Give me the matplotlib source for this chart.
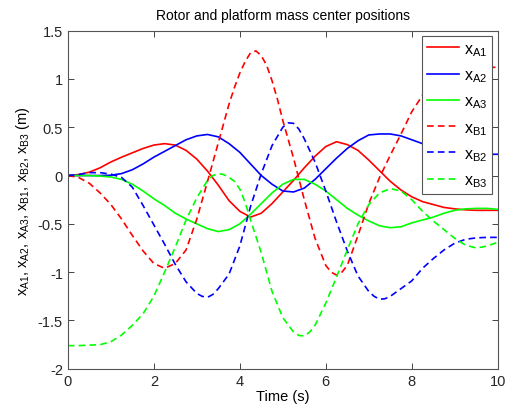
import matplotlib
matplotlib.use('Agg')
import matplotlib.pyplot as plt
import numpy as np

plt.rcParams['font.family'] = ['Liberation Sans', 'DejaVu Sans']
plt.rcParams['mathtext.default'] = 'regular'

# time grid (s) for the solid curves
t = np.arange(0, 10.01, 0.25)

# values (m)
x_a1 = [0, 0.01, 0.035, 0.08, 0.14, 0.19, 0.235, 0.28, 0.315, 0.33,
        0.315, 0.26, 0.17, 0.045, -0.10, -0.26, -0.37, -0.43, -0.39, -0.29,
        -0.17, -0.05, 0.08, 0.20, 0.30, 0.35, 0.32, 0.26, 0.16, 0.05,
        -0.06, -0.15, -0.22, -0.27, -0.30, -0.33, -0.345, -0.355, -0.36, -0.36,
        -0.36]
x_a2 = [0, 0, 0, 0, 0.003, 0.02, 0.06, 0.12, 0.19, 0.25,
        0.31, 0.37, 0.41, 0.425, 0.40, 0.33, 0.24, 0.12, 0.0, -0.09,
        -0.16, -0.17, -0.13, -0.04, 0.07, 0.18, 0.28, 0.36, 0.42, 0.43,
        0.43, 0.41, 0.37, 0.33, 0.29, 0.26, 0.24, 0.23, 0.225, 0.22,
        0.22]
x_a3 = [0, 0, 0, -0.005, -0.015, -0.04, -0.09, -0.16, -0.24, -0.31,
        -0.39, -0.45, -0.50, -0.55, -0.58, -0.56, -0.50, -0.40, -0.29, -0.18,
        -0.09, -0.04, -0.04, -0.09, -0.16, -0.25, -0.34, -0.41, -0.47, -0.52,
        -0.54, -0.53, -0.49, -0.46, -0.43, -0.39, -0.36, -0.345, -0.34, -0.34,
        -0.35]

# dashed curves have extra readings near their peaks
t_b1 = [0, 0.25, 0.5, 0.75, 1.0, 1.25, 1.5, 1.75, 2.0, 2.25,
        2.5, 2.75, 3.0, 3.25, 3.5, 3.75, 3.875, 4.0, 4.125, 4.25,
        4.375, 4.5, 4.625, 4.75, 4.875, 5.0, 5.25, 5.5, 5.75, 6.0,
        6.125, 6.25, 6.375, 6.5, 6.75, 7.0, 7.25, 7.5, 7.75, 8.0,
        8.25, 8.5, 8.75, 9.0, 9.25, 9.5, 9.75, 10]
x_b1 = [0, -0.02, -0.08, -0.18, -0.30, -0.45, -0.62, -0.78, -0.91, -0.96,
        -0.91, -0.77, -0.45, -0.06, 0.34, 0.74, 0.91, 1.06, 1.18, 1.27,
        1.29, 1.24, 1.14, 0.98, 0.79, 0.57, 0.18, -0.25, -0.65, -0.93,
        -1.0, -1.03, -1.0, -0.93, -0.62, -0.29, -0.02, 0.21, 0.43, 0.66,
        0.83, 0.95, 1.03, 1.08, 1.10, 1.11, 1.12, 1.12]

t_b2 = [0, 0.25, 0.5, 0.75, 1.0, 1.25, 1.5, 1.75, 2.0, 2.25,
        2.5, 2.75, 3.0, 3.125, 3.25, 3.375, 3.5, 3.75, 4.0, 4.25,
        4.5, 4.75, 5.0, 5.125, 5.25, 5.375, 5.5, 5.75, 6.0, 6.25,
        6.5, 6.75, 7.0, 7.125, 7.25, 7.375, 7.5, 7.75, 8.0, 8.25,
        8.5, 8.75, 9.0, 9.25, 9.5, 9.75, 10]
x_b2 = [0, 0.01, 0.03, 0.03, 0.015, -0.02, -0.12, -0.31, -0.51, -0.71,
        -0.92, -1.10, -1.22, -1.25, -1.26, -1.23, -1.17, -1.02, -0.73, -0.32,
        0.02, 0.31, 0.50, 0.545, 0.54, 0.48, 0.38, 0.14, -0.16, -0.48,
        -0.78, -1.04, -1.20, -1.25, -1.28, -1.275, -1.25, -1.17, -1.09, -0.96,
        -0.86, -0.77, -0.70, -0.66, -0.645, -0.64, -0.64]

t_b3 = [0, 0.25, 0.5, 0.75, 1.0, 1.25, 1.5, 1.75, 2.0, 2.25,
        2.5, 2.75, 3.0, 3.25, 3.375, 3.5, 3.625, 3.75, 3.875, 4.0,
        4.125, 4.25, 4.5, 4.75, 5.0, 5.25, 5.375, 5.5, 5.625, 5.75,
        6.0, 6.25, 6.5, 6.75, 7.0, 7.25, 7.5, 7.75, 8.0, 8.25,
        8.5, 8.75, 9.0, 9.25, 9.5, 9.75, 10]
x_b3 = [-1.76, -1.76, -1.755, -1.75, -1.72, -1.65, -1.55, -1.43, -1.25, -1.00,
        -0.74, -0.46, -0.23, -0.05, 0.0, 0.02, 0.01, -0.02, -0.06, -0.14,
        -0.28, -0.46, -0.80, -1.20, -1.47, -1.62, -1.655, -1.66, -1.62, -1.55,
        -1.32, -1.05, -0.77, -0.50, -0.30, -0.18, -0.135, -0.16, -0.25, -0.37,
        -0.47, -0.56, -0.65, -0.72, -0.75, -0.73, -0.69]

series = [
    (t, x_a1, 'r', '-', r'x$_{A1}$'),
    (t, x_a2, 'b', '-', r'x$_{A2}$'),
    (t, x_a3, '#00ff00', '-', r'x$_{A3}$'),
    (t_b1, x_b1, 'r', '--', r'x$_{B1}$'),
    (t_b2, x_b2, 'b', '--', r'x$_{B2}$'),
    (t_b3, x_b3, '#00ff00', '--', r'x$_{B3}$'),
]

fig = plt.figure(figsize=(5.1, 4.1), dpi=100)
ax = fig.add_axes([0.133, 0.098, 0.843, 0.825])

for tt, vals, col, ls, lab in series:
    if ls == '--':
        ax.plot(tt, vals, color=col, linestyle='--', dashes=(4, 2.5),
                linewidth=1.2, label=lab)
    else:
        ax.plot(tt, vals, color=col, linewidth=1.2, label=lab)

ax.set_xlim(0, 10)
ax.set_ylim(-2, 1.5)
ax.set_xticks([0, 2, 4, 6, 8, 10])
ax.set_yticks([-2, -1.5, -1, -0.5, 0, 0.5, 1, 1.5])
ax.set_yticklabels(['-2', '-1.5', '-1', '-0.5', '0', '0.5', '1', '1.5'])
ax.tick_params(direction='in', top=True, right=True, labelsize=10.5,
               colors='#262626', length=4, width=0.6)
for s in ax.spines.values():
    s.set_color('#555555')
    s.set_linewidth(0.8)

ax.set_title('Rotor and platform mass center positions', fontsize=10, pad=8)
ax.set_xlabel('Time (s)', fontsize=10.5, labelpad=1)
ax.set_ylabel(r'x$_{A1}$, x$_{A2}$, x$_{A3}$, x$_{B1}$, x$_{B2}$, x$_{B3}$ (m)',
              fontsize=10.5, labelpad=4)

leg = ax.legend(loc='upper right', fontsize=11.5, handlelength=2.0,
                borderaxespad=0.35, fancybox=False, labelspacing=0.6,
                handletextpad=0.3, borderpad=0.3, framealpha=1)
leg.get_frame().set_edgecolor('#555555')
leg.get_frame().set_linewidth(0.8)

fig.savefig('out.png', dpi=100)
